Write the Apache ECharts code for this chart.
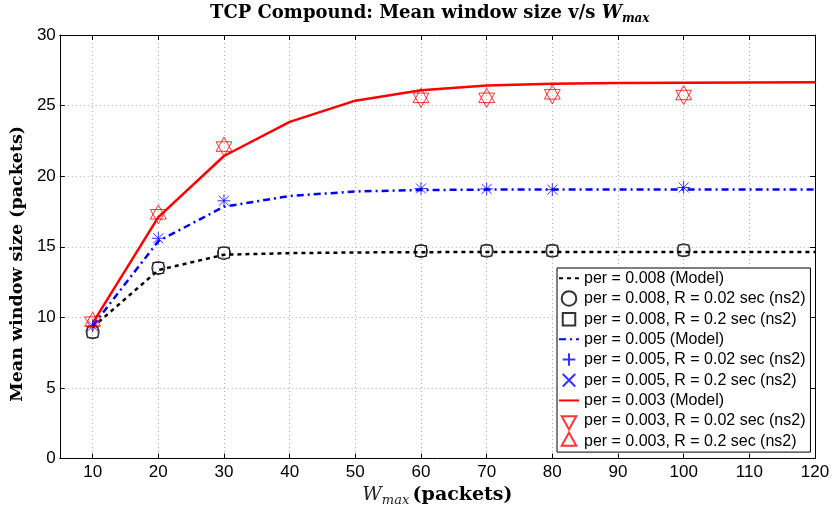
<!DOCTYPE html>
<html>
<head>
<meta charset="utf-8">
<script src="https://cdn.jsdelivr.net/npm/echarts@6/dist/echarts.min.js"></script>
<style>html,body{margin:0;padding:0;background:#fff}#c{width:836px;height:512px}</style>
</head>
<body>
<div id="c"></div>
<script>
// ---- data ----
var xModel = [10, 20, 30, 40, 50, 60, 70, 80, 90, 100, 110, 120];
var model008 = [9.3, 13.35, 14.44, 14.55, 14.6, 14.62, 14.63, 14.64, 14.64, 14.64, 14.64, 14.64];
var model005 = [9.4, 15.4, 17.84, 18.6, 18.92, 19.02, 19.05, 19.05, 19.05, 19.05, 19.05, 19.05];
var model003 = [9.6, 17.1, 21.43, 23.85, 25.35, 26.08, 26.43, 26.55, 26.6, 26.62, 26.64, 26.65];

var xSim = [10, 20, 30, 60, 70, 80, 100];
var sim008R002 = [8.95, 13.5, 14.55, 14.7, 14.72, 14.72, 14.75];
var sim008R02  = [8.95, 13.5, 14.58, 14.7, 14.72, 14.72, 14.75];
var sim005R002 = [9.4, 15.6, 18.26, 19.13, 19.1, 19.05, 19.2];
var sim005R02  = [9.4, 15.6, 18.26, 19.13, 19.1, 19.05, 19.2];
var sim003R002 = [9.7, 17.3, 22.1, 25.55, 25.55, 25.8, 25.75];
var sim003R02  = [9.7, 17.3, 22.1, 25.55, 25.55, 25.8, 25.75];

var xTicks = [10, 20, 30, 40, 50, 60, 70, 80, 90, 100, 110, 120];
var names = [
  'per = 0.008 (Model)',
  'per = 0.008, R = 0.02 sec (ns2)',
  'per = 0.008, R = 0.2 sec (ns2)',
  'per = 0.005 (Model)',
  'per = 0.005, R = 0.02 sec (ns2)',
  'per = 0.005, R = 0.2 sec (ns2)',
  'per = 0.003 (Model)',
  'per = 0.003, R = 0.02 sec (ns2)',
  'per = 0.003, R = 0.2 sec (ns2)'
];

function pairs(xs, ys) { return xs.map(function (x, i) { return [x, ys[i]]; }); }

// marker shapes (extra move-to points only widen the bounding box)
var SYM_CIRCLE = 'path://M-1,-1M11,11M0,5A5,5 0 1 1 10,5A5,5 0 1 1 0,5Z';
var SYM_SQUARE = 'path://M-2,-2M12,12M0,0L10,0L10,10L0,10Z';
var SYM_PLUS = 'path://M-2,-2M12,12M5,0L5,10M0,5L10,5';
var SYM_CROSS = 'path://M-2,-2M12,12M0,0L10,10M10,0L0,10';
var SYM_TRI_UP = 'path://M5,0L10,9L0,9ZM5,12';
var SYM_TRI_DOWN = 'path://M5,0M0,3L10,3L5,12Z';

function lineSeries(name, ys, color, type, width) {
  return {
    name: name, type: 'line', data: pairs(xModel, ys), symbol: 'none',
    lineStyle: { color: color, width: width, type: type }, itemStyle: { color: color },
    z: 2, silent: true, animation: false
  };
}
function markSeries(name, ys, color, symbol, size) {
  return {
    name: name, type: 'scatter', data: pairs(xSim, ys), symbol: symbol, symbolSize: size,
    symbolKeepAspect: true,
    itemStyle: { color: 'rgba(255,255,255,0)', borderColor: color, borderWidth: 1 },
    z: 3, silent: true, animation: false
  };
}

var serif = '"DejaVu Serif", "Liberation Serif", serif';
var sans = '"Liberation Sans", Arial, sans-serif';

var legendData = names.map(function (n, i) {
  return (i % 3 === 0) ? { name: n, itemStyle: { opacity: 0 } } : { name: n };
});

var chart = echarts.init(document.getElementById('c'), null, { renderer: 'canvas' });
chart.setOption({
  animation: false,
  backgroundColor: '#fff',
  title: {
    text: '{b|TCP Compound: Mean window size v/s }{i|W}{s|max}',
    left: 210, top: 1, padding: 0,
    textStyle: {
      rich: {
        b: { fontFamily: serif, fontWeight: 'bold', fontSize: 18, color: '#000', lineHeight: 24 },
        i: { fontFamily: serif, fontStyle: 'italic', fontSize: 18, color: '#000', lineHeight: 24 },
        s: { fontFamily: serif, fontStyle: 'italic', fontSize: 12, color: '#000', lineHeight: 14, verticalAlign: 'bottom' }
      }
    }
  },
  grid: { left: 59, right: 21, top: 35, bottom: 51, containLabel: false },
  legend: {
    data: legendData, orient: 'vertical', left: 557, top: 268,
    itemWidth: 20, itemHeight: 17.5, itemGap: 1.2,
    padding: [1, 5, 1, 1],
    backgroundColor: '#fff', borderColor: '#000', borderWidth: 1,
    textStyle: { fontFamily: sans, fontSize: 16, color: '#000', lineHeight: 18.5 },
    selectedMode: false
  },
  xAxis: [{
    type: 'value', min: 5, max: 120,
    name: '{i|W}{s|max} {b|(packets)}', nameLocation: 'middle', nameGap: 20,
    nameTextStyle: {
      rich: {
        b: { fontFamily: serif, fontWeight: 'bold', fontSize: 19, color: '#000', lineHeight: 24 },
        i: { fontFamily: serif, fontStyle: 'italic', fontSize: 19, color: '#222', lineHeight: 24 },
        s: { fontFamily: serif, fontStyle: 'italic', fontSize: 13, color: '#222', lineHeight: 14, verticalAlign: 'bottom' }
      }
    },
    axisLine: { show: true, onZero: false, lineStyle: { color: '#000', width: 1 } },
    axisTick: { show: true, inside: true, length: 5, customValues: xTicks, lineStyle: { color: '#000' } },
    axisLabel: { customValues: xTicks, fontFamily: sans, fontSize: 17, color: '#000', margin: 5 },
    splitLine: { show: true, lineStyle: { color: '#b0b0b0', type: [1, 3], width: 1 } }
  }, {
    type: 'value', min: 5, max: 120, position: 'top',
    axisLine: { show: true, onZero: false, lineStyle: { color: '#000', width: 1 } },
    axisTick: { show: true, inside: true, length: 5, customValues: xTicks, lineStyle: { color: '#000' } },
    axisLabel: { show: false }, splitLine: { show: false }
  }],
  yAxis: [{
    type: 'value', min: 0, max: 30, interval: 5,
    name: 'Mean window size (packets)', nameLocation: 'middle', nameGap: 21,
    nameTextStyle: { fontFamily: serif, fontWeight: 'bold', fontSize: 17.5, color: '#000', padding: [0, 34, 0, 0] },
    axisLine: { show: true, onZero: false, lineStyle: { color: '#000', width: 1 } },
    axisTick: { show: true, inside: true, length: 5, lineStyle: { color: '#000' } },
    axisLabel: { fontFamily: sans, fontSize: 17, color: '#000', margin: 4 },
    splitLine: { show: true, lineStyle: { color: '#b0b0b0', type: [1, 3], width: 1 } }
  }, {
    type: 'value', min: 0, max: 30, interval: 5, position: 'right',
    axisLine: { show: true, onZero: false, lineStyle: { color: '#000', width: 1 } },
    axisTick: { show: true, inside: true, length: 5, lineStyle: { color: '#000' } },
    axisLabel: { show: false }, splitLine: { show: false }
  }],
  series: [
    lineSeries(names[0], model008, '#000', [4, 4], 2.5),
    lineSeries(names[3], model005, '#0000ff', [7, 4, 2, 4], 2.5),
    lineSeries(names[6], model003, '#ff0000', 'solid', 2.5),
    markSeries(names[1], sim008R002, '#000', SYM_CIRCLE, 15.6),
    markSeries(names[2], sim008R02, '#000', SYM_SQUARE, 15.4),
    markSeries(names[4], sim005R002, '#0000ff', SYM_PLUS, 18),
    markSeries(names[5], sim005R02, '#0000ff', SYM_CROSS, 14),
    markSeries(names[7], sim003R002, '#ff0000', SYM_TRI_DOWN, 19),
    markSeries(names[8], sim003R02, '#ff0000', SYM_TRI_UP, 19)
  ]
});
</script>
</body>
</html>
